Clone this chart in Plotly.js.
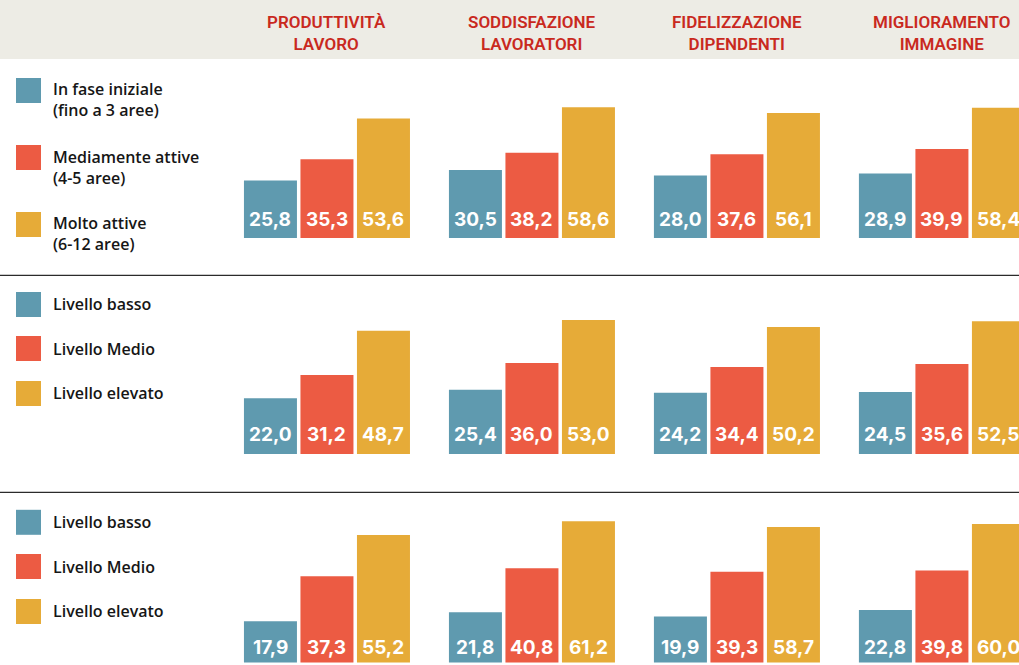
<!DOCTYPE html>
<html>
<head>
<meta charset="utf-8">
<script src="https://cdn.plot.ly/plotly-3.0.1.min.js"></script>
<style>html,body{margin:0;padding:0;background:#fff;}#chart{width:1019px;height:665px;}</style>
</head>
<body>
<div id="chart"></div>
<script>
// ---------- DATA ----------
const categories = ['PRODUTTIVITÀ<br>LAVORO', 'SODDISFAZIONE<br>LAVORATORI', 'FIDELIZZAZIONE<br>DIPENDENTI', 'MIGLIORAMENTO<br>IMMAGINE'];

const legendRow1 = ['In fase iniziale<br>(fino a 3 aree)', 'Mediamente attive<br>(4-5 aree)', 'Molto attive<br>(6-12 aree)'];
const legendRow2 = ['Livello basso', 'Livello Medio', 'Livello elevato'];
const legendRow3 = ['Livello basso', 'Livello Medio', 'Livello elevato'];

const row1Low  = [25.8, 30.5, 28.0, 28.9];
const row1Mid  = [35.3, 38.2, 37.6, 39.9];
const row1High = [53.6, 58.6, 56.1, 58.4];

const row2Low  = [22.0, 25.4, 24.2, 24.5];
const row2Mid  = [31.2, 36.0, 34.4, 35.6];
const row2High = [48.7, 53.0, 50.2, 52.5];

const row3Low  = [17.9, 21.8, 19.9, 22.8];
const row3Mid  = [37.3, 40.8, 39.3, 39.8];
const row3High = [55.2, 61.2, 58.7, 60.0];

const colors = ['#5F9AAF', '#EC5B43', '#E6AB38'];

// ---------- LAYOUT HELPERS ----------
const W = 1019, H = 665;
const px = x => x / W;
const py = y => 1 - y / H;

const rows = [
  {series: [row1Low, row1Mid, row1High], legend: legendRow1, axis: '', top: 60, base: 238, scale: 2.23, lab: 19,
   sq: [90.5, 157.5, 224.5], txt: [99.2, 167, 233.8]},
  {series: [row2Low, row2Mid, row2High], legend: legendRow2, axis: '2', top: 280, base: 454, scale: 2.53, lab: 19.5,
   sq: [304.5, 348.5, 393.5], txt: [304.3, 349.3, 393.3]},
  {series: [row3Low, row3Mid, row3High], legend: legendRow3, axis: '3', top: 497, base: 667.5, scale: 2.38, lab: 15.5,
   sq: [522.3, 566.5, 611.5], txt: [522.3, 566.7, 610.7]}
];

const HEAD_FONT = 'Roboto, sans-serif';
const LEG_FONT = '"Open Sans", sans-serif';
const LAB_FONT = 'Inter, sans-serif';
const BAR_STEP = 56.5; // px between neighbouring bars in a group

const traces = [];
const shapes = [];
const annotations = [];

// header band
shapes.push({type: 'rect', xref: 'paper', yref: 'paper', x0: 0, x1: 1, y0: py(59), y1: 1,
  fillcolor: '#EDECE5', line: {width: 0}, layer: 'below'});

// separators
[275.3, 492.3].forEach(y => shapes.push({type: 'line', xref: 'paper', yref: 'paper', x0: 0, x1: 1,
  y0: py(y), y1: py(y), line: {color: '#2b2b2b', width: 1.3}}));

// header titles
categories.forEach(c => annotations.push({xref: 'x', yref: 'paper', x: c, y: py(33), text: c,
  showarrow: false, xanchor: 'center', yanchor: 'middle',
  font: {family: HEAD_FONT, size: 17, color: '#C9291E', weight: 600}}));

const layout = {
  width: W, height: H,
  margin: {l: 0, r: 0, t: 0, b: 0, pad: 0},
  paper_bgcolor: '#ffffff', plot_bgcolor: 'rgba(0,0,0,0)',
  showlegend: false, barmode: 'group', bargap: 0.173, bargroupgap: 0.062,
  separators: ',.',
  shapes: shapes, annotations: annotations
};

const xRange = [-1.595, 3.376];
const fmt = v => v.toFixed(1).replace('.', ',');

rows.forEach((r, ri) => {
  const xa = 'xaxis' + r.axis, ya = 'yaxis' + r.axis;
  const yBottomPx = Math.min(r.base, H);
  const lo = -(r.base - yBottomPx) / r.scale;
  const hi = (r.base - r.top) / r.scale;
  layout[xa] = {domain: [0, 1], range: xRange, type: 'category', categoryarray: categories,
    visible: false, fixedrange: true, anchor: 'y' + r.axis};
  layout[ya] = {domain: [py(yBottomPx), py(r.top)], range: [lo, hi], visible: false,
    fixedrange: true, anchor: 'x' + r.axis};

  r.series.forEach((vals, si) => {
    traces.push({
      type: 'bar', x: categories, y: vals, name: r.legend[si].replace('<br>', ' '),
      xaxis: 'x' + r.axis, yaxis: 'y' + r.axis,
      marker: {color: colors[si], line: {width: 0}},
      hoverinfo: 'skip'
    });
    // value labels near the bar base
    vals.forEach((v, ci) => annotations.push({
      xref: 'x' + r.axis, yref: 'y' + r.axis, x: categories[ci], y: 0,
      xshift: (si - 1) * BAR_STEP, yshift: r.lab, text: fmt(v), showarrow: false,
      xanchor: 'center', yanchor: 'middle',
      font: {family: LAB_FONT, size: 19, color: '#ffffff', weight: 700}
    }));
    // legend square + text
    shapes.push({type: 'rect', xref: 'paper', yref: 'paper', x0: px(16), x1: px(41),
      y0: py(r.sq[si] + 12.5), y1: py(r.sq[si] - 12.5), fillcolor: colors[si], line: {width: 0}});
    annotations.push({xref: 'paper', yref: 'paper', x: px(51), y: py(r.txt[si]), text: r.legend[si],
      showarrow: false, xanchor: 'left', yanchor: 'middle', align: 'left',
      font: {family: LEG_FONT, size: 16, color: '#161616', weight: 600}});
  });
});

Plotly.newPlot('chart', traces, layout, {staticPlot: true, displayModeBar: false});
</script>
</body>
</html>
